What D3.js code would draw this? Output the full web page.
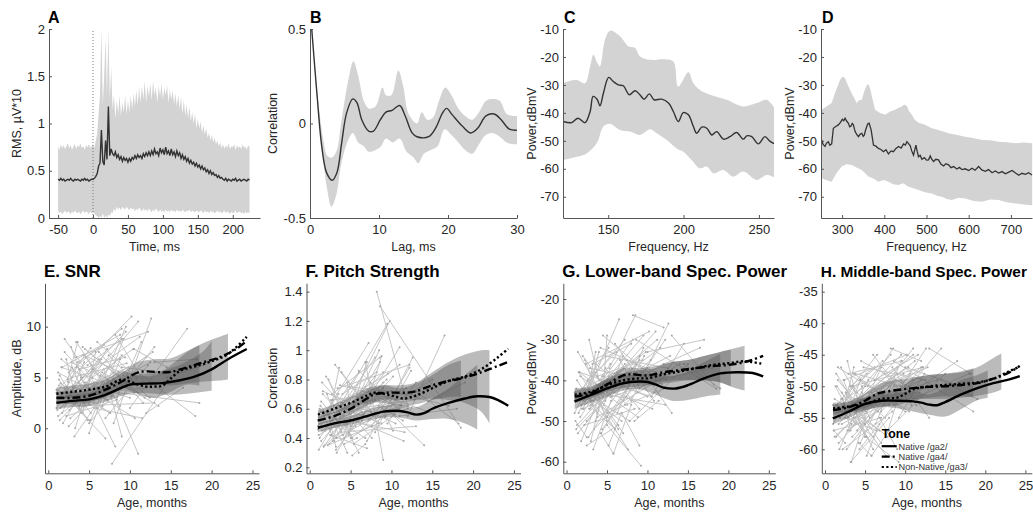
<!DOCTYPE html>
<html><head><meta charset="utf-8">
<script src="https://cdn.jsdelivr.net/npm/d3@7"></script>
<style>body{margin:0;background:#fff}svg{display:block}</style>
</head><body>
<svg id="c" width="1033" height="514"></svg>
<script>
// ---------------- DATA ----------------
// Panel A: RMS over time (2 ms samples from -50 to 224 ms)
const rmsTime = d3.range(-50, 225, 2);
const rmsMean = [0.41,0.40,0.42,0.40,0.41,0.39,0.40,0.41,0.40,0.42,0.40,0.39,0.41,0.40,0.41,0.40,0.39,0.41,0.40,0.42,0.40,0.41,0.39,0.40,0.41,
0.41,0.42,0.44,0.47,0.55,0.58,
0.93,0.60,0.56,0.82,0.62,1.18,0.66,0.73,0.68,
0.66,0.70,0.64,0.67,0.62,0.65,0.60,0.64,0.61,0.63,0.59,
0.63,0.60,0.64,0.62,0.66,0.63,0.67,0.64,0.66,0.63,0.68,0.65,0.69,0.66,0.70,
0.66,0.71,0.67,0.73,0.68,0.70,0.66,0.74,0.69,0.72,0.67,0.75,0.68,0.71,0.66,0.73,0.67,0.70,0.65,0.71,
0.66,0.69,0.63,0.67,0.62,0.65,0.60,0.63,0.58,0.61,0.57,0.59,0.55,0.58,0.54,
0.56,0.52,0.55,0.51,0.53,0.49,0.51,0.47,0.50,0.46,0.48,0.45,0.46,0.43,0.45,
0.42,0.43,0.41,0.40,0.42,0.39,0.41,0.40,0.39,0.41,0.40,0.42,0.39,0.40,0.41,0.39,0.40,0.41,0.40,0.39,0.41,0.40];
const rmsUpper = [0.76,0.72,0.78,0.74,0.77,0.73,0.76,0.79,0.74,0.77,0.72,0.76,0.78,0.73,0.77,0.75,0.79,0.74,0.76,0.72,0.77,0.75,0.78,0.74,0.76,
0.78,0.74,0.82,0.90,1.10,1.30,
2.0,1.2,1.5,1.9,1.3,2.0,1.25,1.6,1.15,
1.3,1.05,1.25,1.1,1.3,1.08,1.22,1.12,1.3,1.1,1.25,
1.12,1.3,1.15,1.32,1.18,1.35,1.2,1.38,1.22,1.4,1.25,1.45,1.22,1.4,1.28,
1.42,1.25,1.45,1.3,1.38,1.22,1.4,1.28,1.42,1.25,1.38,1.3,1.4,1.22,1.36,1.25,1.35,1.2,1.32,1.18,
1.3,1.15,1.28,1.1,1.25,1.08,1.2,1.05,1.18,1.02,1.12,1.0,1.1,0.95,1.05,
0.95,1.02,0.9,0.98,0.88,0.95,0.85,0.9,0.82,0.88,0.8,0.85,0.78,0.82,0.76,
0.8,0.74,0.78,0.73,0.77,0.74,0.79,0.73,0.76,0.75,0.78,0.72,0.77,0.74,0.76,0.73,0.78,0.74,0.76,0.72,0.77,0.75];
const rmsLower = [0.08,0.05,0.07,0.04,0.06,0.08,0.05,0.07,0.06,0.04,0.07,0.05,0.08,0.06,0.05,0.07,0.04,0.06,0.08,0.05,0.07,0.06,0.04,0.07,0.05,
0.06,0.05,0.03,0.02,0.0,0.02,
0.0,0.05,0.0,0.03,0.0,0.04,0.02,0.06,0.05,
0.1,0.07,0.12,0.09,0.11,0.08,0.12,0.1,0.09,0.12,0.1,
0.08,0.11,0.09,0.1,0.07,0.1,0.08,0.11,0.09,0.07,0.1,0.08,0.09,0.07,0.1,
0.08,0.06,0.09,0.07,0.1,0.08,0.06,0.09,0.07,0.08,0.06,0.09,0.07,0.08,0.06,0.09,0.07,0.08,0.06,0.09,
0.07,0.08,0.06,0.09,0.07,0.06,0.08,0.07,0.09,0.06,0.08,0.07,0.06,0.08,0.07,
0.06,0.08,0.07,0.05,0.08,0.06,0.07,0.05,0.08,0.06,0.07,0.05,0.06,0.08,0.06,
0.07,0.05,0.06,0.08,0.05,0.07,0.06,0.04,0.07,0.05,0.06,0.08,0.05,0.06,0.07,0.05,0.06,0.04,0.07,0.05,0.06,0.05];

// Panel B: autocorrelation [lag ms, r]
const acMean = [[0.25,0.5],[1,0.16],[1.7,-0.12],[2.4,-0.26],[3.2,-0.30],[3.9,-0.26],[4.6,-0.10],[5.3,0.055],[6.2,0.13],[6.8,0.11],[7.5,0.02],[8.5,-0.04],[9.2,-0.04],[10.2,0.02],[11,0.06],[11.9,0.07],[13,0.095],[13.8,0.04],[14.8,-0.05],[15.5,-0.07],[17.2,-0.07],[18.2,-0.025],[19.2,0.055],[19.8,0.08],[20.6,0.047],[22.1,-0.015],[23.3,-0.05],[24.3,-0.025],[25.5,0.04],[26.7,0.05],[27.7,0.02],[28.9,-0.03],[30,-0.035]];
const acUpper = [[0.25,0.5],[1,0.18],[2,-0.1],[2.5,-0.17],[3.2,-0.18],[3.9,-0.14],[4.5,0.0],[5.5,0.22],[6.3,0.33],[7,0.25],[7.8,0.12],[8.5,0.08],[9.5,0.09],[10.5,0.19],[11,0.15],[11.8,0.15],[12.8,0.28],[13.5,0.2],[14.3,0.05],[15.5,0.0],[16.2,0.06],[17,0.02],[17.8,0.03],[18.7,0.12],[19.6,0.19],[20.5,0.15],[21.5,0.08],[22.5,0.04],[23.5,0.02],[24.5,0.06],[25.5,0.12],[26.5,0.13],[27.5,0.12],[28.5,0.05],[29.5,0.04],[30,0.04]];
const acLower = [[0.25,0.5],[1,0.14],[1.8,-0.15],[2.5,-0.35],[3.1,-0.44],[3.8,-0.38],[4.5,-0.22],[5.3,-0.11],[6.2,-0.05],[7,-0.1],[7.8,-0.12],[8.5,-0.15],[9.5,-0.14],[10.3,-0.12],[11,-0.08],[12,-0.1],[13,-0.08],[14,-0.15],[15,-0.18],[15.7,-0.21],[16.5,-0.16],[17.5,-0.14],[18.5,-0.12],[19.5,-0.03],[20.5,-0.06],[21.5,-0.1],[22.5,-0.14],[23.5,-0.16],[24.5,-0.11],[25.5,-0.06],[26.5,-0.05],[27.5,-0.07],[28.5,-0.1],[29.5,-0.11],[30,-0.11]];

// Panel C: lower-band spectrum [Hz, dBmV]
const lowSpecMean = [[120.2,-43.1],[125.7,-43.5],[130,-41.9],[134.6,-43.5],[138,-39.5],[140,-34.1],[142.8,-35.3],[144.5,-37.5],[146.8,-33],[150.3,-27.3],[153.4,-28.8],[156.7,-30],[160,-30.3],[164,-33.5],[167.8,-32.1],[171,-33.5],[173.8,-35.1],[177.3,-33.2],[180.4,-35.3],[185.5,-35.1],[190,-36.5],[193.2,-39.5],[196.5,-43.1],[199.8,-39.9],[203.2,-40.7],[206.5,-44.9],[208.7,-47.3],[212,-45.1],[215.4,-45.5],[218.7,-47.9],[222,-46.7],[226.4,-49.4],[230.8,-48.5],[235.2,-47],[239.6,-49.4],[241.9,-48.2],[245.2,-48.5],[249.6,-51.1],[254,-48.5],[257,-50],[260,-51]];
const lowSpecUpper = [[120,-29.4],[129.1,-28.2],[134.6,-29.4],[138,-23.4],[140.2,-19.2],[142.8,-22.2],[144.5,-23.4],[147.9,-13.8],[151.2,-10.6],[157.8,-12.6],[163.4,-16.2],[167.8,-16.8],[171.1,-19.8],[177.8,-21],[186.6,-20.8],[193.2,-21.6],[196.5,-30.6],[203.2,-25.5],[206.5,-29.4],[210.9,-31.8],[217.5,-33.5],[228.6,-35.3],[239.6,-37.7],[248.5,-36.5],[255.1,-35.3],[260,-38]];
const lowSpecLower = [[120,-56.9],[129.1,-55.7],[135.7,-54.5],[142.4,-50.9],[146.8,-44.9],[151.2,-43.9],[157.8,-46.1],[164.5,-46.7],[171.1,-47.9],[177.8,-45.9],[182.2,-47.3],[188.8,-49.7],[195.4,-52.7],[199.9,-53.9],[205.4,-56.9],[210.9,-59.8],[215.4,-59.2],[219.8,-61.6],[226.4,-60.4],[233,-62.8],[239.6,-61],[248.5,-64],[255.1,-62.2],[260,-63]];

// Panel D: middle-band spectrum [Hz, dBmV]
const midSpecMean = [[251.6,-49.7],[255,-51.3],[259.5,-52],[263,-50.8],[267.4,-50.3],[271,-51.6],[275.3,-51.1],[279.3,-45.5],[285,-44.9],[291.1,-44.3],[296,-43.4],[300.6,-42.3],[304,-42.8],[307,-41.9],[311,-43],[315,-43.7],[318,-45],[321.3,-44.7],[324,-43.8],[326.8,-44.3],[330.8,-46.7],[335,-47.8],[338.7,-48.5],[343,-47.6],[346.7,-47.3],[350,-48.4],[352.8,-47.9],[355,-46.5],[358.5,-44.9],[361,-43.9],[364,-43.7],[368.8,-46.1],[374.3,-51.5],[380,-51.9],[386.1,-52.7],[392,-53.1],[398,-53.9],[404,-53.2],[409.9,-54.7],[416,-53.6],[421.7,-53.9],[427,-52.8],[433.6,-52],[440,-52.6],[445.5,-51.1],[450,-51.5],[453.5,-50.3],[457,-50.9],[461.4,-51.8],[465,-53.6],[469.2,-55.1],[474.9,-51.5],[478,-53.8],[481,-55.7],[485,-55.2],[489.2,-56.6],[495,-56],[500,-56.9],[504.8,-56.8],[508.9,-55.4],[512,-56.5],[516.8,-57.4],[522,-56.6],[528.6,-56.8],[534,-58.3],[540.5,-59],[546,-58.2],[552.4,-58.6],[558,-59.6],[564.2,-59.2],[572,-60.1],[578,-59.5],[584.2,-60.3],[592,-60],[600,-60.6],[607.9,-59.8],[615,-60.5],[623.6,-59.2],[631,-60.4],[639.5,-60.9],[647,-60.3],[655.4,-61.4],[663,-60.8],[671.2,-61.5],[679,-61],[687,-61.8],[695,-61.2],[703,-60.6],[711,-61.5],[718.6,-62.3],[726,-61.6],[734.5,-62],[742,-61.4],[750,-62.2]];
const midSpecUpper = [[251.6,-38.9],[262,-37.8],[275.3,-36.5],[283.2,-32.9],[295.1,-28.2],[301,-27],[307,-27.6],[312,-29.5],[318.9,-31.8],[326,-34],[334.7,-36.5],[340,-35.5],[346.6,-35.3],[352,-32.5],[358.5,-30],[362,-29.8],[366.4,-31.2],[372,-35],[378.3,-38.9],[390,-40],[402,-40.7],[414,-39.5],[425.8,-38.9],[434,-38.2],[441.6,-37.7],[447,-37],[453.5,-37.5],[459,-39.5],[465.4,-40.7],[472,-42.5],[481.1,-43.5],[495,-44.2],[512.9,-45.5],[530,-46.2],[552.4,-47.3],[570,-47.8],[592,-48.5],[610,-49],[631.7,-49.7],[650,-49.8],[671.1,-50.3],[690,-50.5],[710.8,-50.9],[730,-50.6],[750.4,-50.9]];
const midSpecLower = [[251.6,-63.4],[262,-64],[275.3,-64.6],[287,-61.5],[299,-59.2],[310,-58.4],[322.8,-58.6],[334,-59.5],[346.6,-60.4],[354,-61.5],[362.4,-62.8],[374,-63.5],[386.2,-64.6],[398,-64],[409.9,-64.6],[421,-65.5],[433.6,-65.8],[445,-65.2],[457.4,-66.4],[469,-67],[481.1,-67.6],[496,-68.4],[512.9,-68.8],[525,-69.6],[536.6,-70],[548,-70.8],[560.4,-71.2],[576,-70.4],[592,-70.6],[612,-71.5],[631.7,-71.8],[651,-71],[671.1,-71.2],[690,-72],[710.8,-72.4],[730,-72.8],[750.4,-73]];

// Bottom row: individual subjects (ages in months at two visits) and their measures
const subjectAges = [[1.0,5.2],[1.2,8.0],[1.3,3.8],[1.5,6.5],[1.6,10.5],[1.8,4.5],[2.0,7.2],[2.1,12.0],[2.3,5.0],[2.5,9.0],
[2.6,6.0],[2.8,4.0],[3.0,11.0],[3.1,7.5],[3.3,5.5],[3.5,9.8],[3.6,6.8],[3.8,13.0],[4.0,8.2],[4.2,5.8],
[4.4,10.0],[4.6,7.0],[4.8,12.5],[5.0,9.2],[5.3,8.5],[5.6,11.5],[6.0,10.8],[6.3,9.5],[6.6,13.5],[7.0,12.2],
[7.4,10.2],[7.8,15.0],[8.2,12.0],[8.6,18.5],[9.0,14.0],[9.5,13.0],[10.0,17.0],[11.0,18.0],[12.0,16.5],[1.1,2.5],
[1.4,4.8],[1.9,9.5],[2.2,3.2],[2.7,8.6],[3.2,6.2],[3.9,7.8],[4.5,11.8],[5.2,6.8],[5.8,12.8],[6.8,9.0],
[1.0,6.0],[1.7,3.0],[2.4,10.2],[3.4,8.8],[4.1,5.4],[13.0,18.2],[14.5,19.0],[8.0,12.6],[1.5,7.6],[2.9,4.6],
[1.0,3.5],[1.2,6.8],[1.4,9.0],[1.6,4.2],[1.8,11.2],[2.0,5.6],[2.2,8.4],[2.4,3.6],[2.6,7.0],[2.8,10.0],
[3.0,4.4],[3.2,8.0],[3.4,12.2],[3.6,5.2],[3.8,9.4],[4.0,6.4],[4.2,11.0],[4.4,7.4],[4.6,5.0],[4.8,9.0],
[5.0,7.8],[5.4,10.4],[5.8,8.0],[6.2,11.6],[6.6,8.8],[7.2,11.0],[7.6,9.6],[8.4,11.4],[9.2,12.4],[10.5,14.5],
[1.1,7.0],[1.3,5.0],[1.7,8.8],[2.1,4.0],[2.5,6.4],[2.9,9.6],[3.3,7.2],[3.7,10.6],[4.3,8.6],[5.1,12.0]];
const snrVisits = [[3.5,7.9],[1.2,5.5],[4.8,2.0],[2.0,6.8],[6.0,3.5],[0.5,4.2],[7.5,2.8],[2.5,7.0],[3.2,0.8],[5.5,9.8],
[1.8,4.5],[8.0,5.2],[2.8,10.5],[4.2,1.5],[0.0,5.8],[3.8,6.0],[6.5,8.2],[2.2,2.5],[5.0,-1.8],[1.5,7.5],
[4.5,3.0],[7.0,4.0],[3.0,6.5],[-0.5,8.8],[6.2,3.8],[2.0,1.0],[8.5,5.0],[4.0,10.0],[5.5,2.2],[1.0,6.2],
[7.2,4.8],[-3.5,5.0],[9.2,4.2],[3.5,2.5],[6.0,5.5],[4.5,8.0],[2.0,9.8],[5.5,1.2],[1.5,4.0],[2.6,4.5],
[5.2,0.8],[3.0,9.5],[6.8,3.5],[1.0,5.2],[4.0,6.8],[2.4,3.2],[7.8,3.0],[0.8,3.8],[3.6,7.5],[5.8,-0.8],
[3.8,2.0],[1.5,3.8],[4.6,11.0],[8.5,2.2],[2.8,5.8],[6.5,6.8],[5.0,6.2],[0.5,10.8],[4.4,1.5],[6.0,3.0],
[2.0,6.0],[5.5,3.0],[0.8,7.2],[6.8,5.0],[3.5,9.0],[8.8,4.5],[1.2,2.8],[4.8,8.5],[2.8,-1.0],[6.5,3.8],
[4.0,6.5],[-0.8,4.8],[7.0,9.5],[3.2,1.5],[5.8,7.0],[1.5,5.2],[8.0,3.5],[2.5,6.0],[4.5,4.0],[6.2,8.8],
[0.5,3.2],[5.0,7.8],[3.8,5.5],[7.5,2.5],[2.2,6.8],[4.8,-2.5],[6.0,4.2],[3.0,8.5],[5.2,3.0],[7.8,6.0],
[1.8,5.0],[4.2,2.5],[6.0,9.2],[3.0,4.8],[0.2,3.6],[5.0,6.4],[2.6,7.8],[4.5,1.0],[7.2,5.6],[3.4,4.0]];
const pitchVisits = [[0.52,0.68],[0.40,0.95],[0.62,0.45],[0.45,0.72],[0.72,0.50],[0.35,0.55],[0.58,1.05],[0.48,0.62],[0.80,0.42],[0.42,0.78],
[0.66,0.30],[0.38,0.60],[0.55,0.90],[0.90,0.58],[0.30,0.52],[0.50,1.20],[0.62,0.75],[0.44,0.48],[0.70,0.85],[0.36,0.40],
[0.58,0.62],[0.48,0.92],[0.75,0.70],[0.40,0.55],[0.60,1.00],[0.52,0.38],[0.86,0.60],[0.45,0.68],[0.65,0.72],[0.38,0.88],
[0.78,0.45],[0.55,0.80],[1.40,0.62],[1.30,0.47],[0.62,0.35],[0.50,0.78],[0.72,0.62],[0.55,0.60],[0.55,1.10],[0.32,0.45],
[0.65,0.42],[0.45,1.18],[0.58,0.34],[0.70,0.95],[0.40,0.70],[0.85,0.56],[0.50,0.74],[0.28,0.36],[0.60,0.66],[0.92,0.25],
[0.46,0.85],[0.56,0.38],[0.36,0.82],[0.62,0.50],[0.42,0.60],[0.72,0.50],[0.65,0.78],[0.44,0.95],[0.78,0.40],[0.50,0.30],
[0.48,0.70],[0.60,0.40],[0.38,0.85],[0.70,0.55],[0.45,0.62],[0.82,0.48],[0.35,0.50],[0.55,0.88],[0.42,0.33],[0.66,0.72],
[0.50,0.58],[0.32,0.66],[0.74,0.90],[0.58,0.40],[0.46,0.80],[0.64,0.52],[0.40,1.02],[0.52,0.64],[0.78,0.46],[0.44,0.74],
[0.60,0.70],[0.36,0.56],[0.68,0.82],[0.50,0.44],[0.56,0.96],[0.72,0.60],[0.48,0.68],[0.62,0.52],[0.54,0.86],[0.66,0.58],
[0.42,0.64],[0.58,0.48],[0.34,0.72],[0.70,0.42],[0.46,0.58],[0.62,0.84],[0.40,0.52],[0.76,0.66],[0.52,0.92],[0.48,0.60]];
const lowPowVisits = [[-45,-32],[-52,-38],[-40,-48],[-48,-25],[-38,-44],[-55,-42],[-42,-30],[-47,-36],[-35,-50],[-50,-35],
[-44,-52],[-30,-40],[-46,-28],[-38,-46],[-57,-45],[-43,-33],[-36,-41],[-49,-38],[-41,-30],[-53,-58],
[-39,-44],[-46,-34],[-34,-37],[-51,-61],[-37,-24],[-44,-40],[-31,-45],[-48,-32],[-40,-42],[-45,-30],
[-35,-38],[-50,-36],[-24,-27],[-30,-42],[-42,-36],[-38,-48],[-33,-30],[-40,-37],[-36,-32],[-50,-54],
[-33,-45],[-47,-29],[-42,-46],[-54,-36],[-39,-33],[-45,-50],[-29,-41],[-56,-48],[-41,-34],[-48,-56],
[-43,-52],[-49,-45],[-36,-28],[-52,-41],[-40,-36],[-29,-41],[-36,-42],[-45,-26],[-38,-57],[-47,-39],
[-48,-38],[-42,-50],[-53,-34],[-38,-42],[-46,-30],[-34,-44],[-51,-47],[-44,-33],[-40,-53],[-47,-37],
[-55,-43],[-36,-31],[-43,-46],[-50,-39],[-39,-35],[-45,-52],[-32,-38],[-52,-44],[-41,-29],[-37,-47],
[-49,-41],[-44,-35],[-58,-46],[-40,-32],[-35,-43],[-46,-38],[-42,-34],[-50,-45],[-38,-40],[-44,-31],
[-43,-37],[-51,-43],[-39,-49],[-47,-33],[-56,-51],[-37,-40],[-45,-36],[-41,-47],[-53,-38],[-48,-42]];
const midPowVisits = [[-55,-48],[-58,-50],[-50,-56],[-53,-45],[-47,-54],[-60,-52],[-52,-46],[-56,-49],[-49,-58],[-54,-47],
[-51,-60],[-46,-52],[-57,-44],[-50,-55],[-62,-53],[-53,-48],[-48,-51],[-55,-50],[-51,-45],[-59,-61],
[-49,-54],[-54,-47],[-47,-49],[-58,-62],[-50,-44],[-53,-52],[-45,-53],[-56,-46],[-52,-50],[-54,-47],
[-48,-52],[-57,-48],[-44,-46],[-46,-54],[-51,-49],[-49,-55],[-47,-50],[-52,-48],[-50,-46],[-57,-59],
[-48,-55],[-55,-45],[-52,-57],[-60,-50],[-50,-47],[-54,-58],[-46,-51],[-61,-56],[-51,-47],[-55,-60],
[-53,-58],[-56,-54],[-49,-45],[-58,-51],[-52,-49],[-44,-48],[-49,-52],[-53,-44],[-50,-61],[-55,-51],
[-56,-50],[-52,-57],[-58,-48],[-49,-53],[-55,-46],[-47,-55],[-60,-54],[-53,-47],[-51,-59],[-57,-51],
[-54,-49],[-62,-55],[-50,-47],[-55,-58],[-48,-50],[-57,-53],[-52,-45],[-59,-51],[-50,-56],[-53,-48],
[-56,-52],[-51,-47],[-61,-57],[-49,-45],[-54,-51],[-52,-49],[-58,-50],[-47,-53],[-55,-48],[-50,-44],
[-57,-55],[-53,-50],[-59,-49],[-51,-54],[-55,-57],[-48,-46],[-56,-51],[-52,-48],[-60,-53],[-54,-47]];

// Group trajectories [age, value] and confidence bands [age, low, high]
const snrGa2 = [[1,2.5],[3,2.7],[5,2.85],[7,3.3],[9,4.0],[10,4.3],[12,4.4],[14,4.45],[16,4.7],[18,5.1],[20,5.8],[22,6.8],[24.3,7.8]];
const snrGa4 = [[1,3.0],[3,3.0],[5,3.2],[7,3.8],[9,4.6],[10,5.1],[11,5.5],[12,5.6],[14,5.5],[15,5.55],[17,6.0],[19,6.5],[21,7.0],[23,7.8],[24.3,8.6]];
const snrGa3 = [[1,3.4],[3,3.6],[5,3.8],[7,4.1],[9,4.8],[10,4.6],[11,4.3],[12,4.1],[13,4.1],[14,4.2],[15,4.9],[16,5.6],[17,5.9],[18,6.1],[20,6.6],[22,7.3],[24.3,9.0]];
const snrBandGa2 = [[1,1.9,3.1],[3,2.1,3.3],[5,2.2,3.5],[7,2.6,4.0],[9,3.2,4.8],[11,3.5,5.3],[13,3.4,5.5],[15,3.3,5.9],[17,3.4,6.6],[19,3.6,7.6],[20,3.7,8.6]];
const snrBandGa4 = [[1,2.4,3.6],[3,2.4,3.6],[5,2.6,3.8],[7,3.1,4.5],[9,3.8,5.4],[11,4.5,6.5],[13,4.4,6.8],[15,4.2,6.9],[17,4.4,7.6],[19,4.6,8.4],[21,4.7,9.0],[22,4.8,9.3]];
const snrBandGa3 = [[1,2.8,4.0],[3,3.0,4.2],[5,3.2,4.4],[7,3.4,4.8],[9,4.0,5.6],[11,3.4,5.2],[13,3.0,5.2],[15,3.6,6.2],[17,4.3,7.5],[18.5,4.2,8.2]];

const pitchGa2 = [[1,0.47],[3,0.50],[5,0.52],[7,0.55],[9,0.58],[10,0.585],[11,0.585],[12,0.575],[13,0.56],[14,0.57],[15,0.60],[17,0.64],[19,0.67],[20.5,0.685],[22,0.68],[23,0.66],[24.3,0.62]];
const pitchGa4 = [[1,0.52],[3,0.55],[5,0.60],[7,0.67],[8,0.70],[10,0.71],[12,0.71],[13,0.72],[15,0.76],[17,0.79],[18,0.80],[20,0.83],[22,0.87],[24.3,0.92]];
const pitchGa3 = [[1,0.56],[3,0.60],[5,0.64],[7,0.69],[8,0.71],[10,0.69],[11.5,0.67],[13,0.69],[15,0.74],[17,0.79],[19,0.82],[21,0.87],[23,0.95],[24.3,1.01]];
const pitchBandGa2 = [[1,0.44,0.50],[3,0.47,0.53],[5,0.49,0.55],[7,0.52,0.59],[9,0.54,0.62],[11,0.54,0.63],[13,0.52,0.61],[15,0.53,0.67],[17,0.53,0.74],[19,0.50,0.83],[20.5,0.46,0.90]];
const pitchBandGa4 = [[1,0.49,0.55],[3,0.52,0.58],[5,0.56,0.64],[7,0.62,0.72],[9,0.66,0.76],[11,0.66,0.76],[13,0.66,0.78],[15,0.67,0.85],[17,0.66,0.92],[19,0.64,0.97],[21,0.58,1.0],[22,0.50,1.0]];
const pitchBandGa3 = [[1,0.53,0.59],[3,0.57,0.63],[5,0.60,0.68],[7,0.64,0.74],[9,0.64,0.76],[11,0.62,0.74],[13,0.63,0.77],[15,0.66,0.83],[17,0.68,0.90],[18.5,0.68,0.93]];

const lowPowGa2 = [[1,-45.2],[3,-43.6],[5,-42],[7,-40.7],[9,-40.3],[10,-40.4],[11,-41],[12,-41.8],[13.5,-42],[15,-41.2],[17,-39.5],[19,-38.3],[21,-38.0],[23,-38.2],[24.3,-39]];
const lowPowGa4 = [[1,-44],[3,-43.2],[5,-41.0],[7,-38.8],[8,-38.5],[10,-38.8],[12,-38.0],[14,-37.5],[16,-37.0],[18,-36.5],[20,-36.2],[22,-35.5],[24.3,-34]];
const lowPowGa3 = [[1,-43.5],[3,-42.8],[5,-41.2],[7,-40],[9,-39.5],[10,-39.5],[12,-38.5],[14,-37.8],[16,-37.0],[18,-36.2],[20,-35.8],[22,-35.3],[24.3,-36]];
const lowPowBandGa2 = [[1,-47,-43.5],[3,-45.5,-42.5],[5,-44,-40],[7,-42.5,-39],[9,-42.2,-38.5],[11,-43.5,-38.5],[13,-45,-39],[15,-44.8,-37.8],[17,-44,-35.5],[19,-43.5,-33.5]];
const lowPowBandGa4 = [[1,-45.5,-42.5],[3,-44.5,-41.8],[5,-42.5,-39.5],[7,-40.5,-37],[9,-40.5,-37],[11,-40.5,-36.5],[13,-40,-35.5],[15,-40,-35],[17,-40,-34],[19,-40.5,-33],[21,-42,-32],[22,-42.5,-31.5]];
const lowPowBandGa3 = [[1,-45,-42],[3,-44,-41.5],[5,-42.8,-39.6],[7,-41.8,-38.2],[9,-41.5,-37.5],[11,-41,-37],[13,-40.5,-35.5],[15,-40,-35],[17,-40,-34],[19,-40.5,-33],[20.3,-41.5,-32.5]];

const midPowGa2 = [[1,-55.1],[3,-54.0],[5,-52.8],[7,-52.3],[9,-52.3],[11,-52.4],[12,-52.6],[13,-52.9],[14,-53.0],[15,-52.5],[17,-51.3],[19,-50.3],[21,-49.5],[23,-48.9],[24.3,-48.4]];
const midPowGa4 = [[1,-53.8],[3,-53.3],[5,-52.3],[6,-51.5],[7,-51.0],[9,-50.6],[11,-50.3],[13,-50.1],[15,-50.0],[17,-49.8],[19,-49.5],[21,-48.8],[23,-47.8],[24.3,-46.8]];
const midPowGa3 = [[1,-53.5],[3,-53.2],[5,-52.8],[7,-52.0],[9,-51.8],[10,-51.2],[11,-50.5],[13,-50.0],[15,-49.8],[17,-49.6],[19,-49.4],[21,-48.8],[23,-47.6],[24.3,-46.9]];
const midPowBandGa2 = [[1,-56,-54.2],[3,-55,-53],[5,-53.8,-51.8],[7,-53.3,-51.3],[9,-53.5,-51.1],[11,-54,-50.8],[13,-54.5,-51.3],[15,-54.8,-50.2],[17,-53.6,-49],[19,-52.2,-48.2],[20.3,-51.8,-47.5]];
const midPowBandGa4 = [[1,-54.7,-52.9],[3,-54.2,-52.4],[5,-53.4,-51.2],[7,-52.5,-49.5],[9,-52.2,-49],[11,-52,-48.6],[13,-52,-48.2],[15,-52,-48],[17,-51.8,-47.8],[19,-51.5,-47],[21,-51,-45.5],[22,-50.5,-44.8]];
const midPowBandGa3 = [[1,-54.4,-52.6],[3,-54,-52.4],[5,-53.8,-51.8],[7,-53.2,-50.8],[9,-53,-50.6],[11,-52.2,-48.8],[13,-51.8,-48.2],[15,-51.6,-48],[17,-51.6,-47.6],[18.5,-51.8,-47.2]];

const toneLabels = ["Native /ga2/", "Native /ga4/", "Non-Native /ga3/"];

// Tick values
const ticksA = {x:[-50,0,50,100,150,200], y:[0,0.5,1,1.5,2]};
const ticksB = {x:[0,10,20,30], y:[-0.5,0,0.5]};
const ticksC = {x:[150,200,250], y:[-70,-60,-50,-40,-30,-20,-10]};
const ticksD = {x:[300,400,500,600,700], y:[-70,-60,-50,-40,-30,-20,-10]};
const ticksAge = [0,5,10,15,20,25];
const ticksE = [0,5,10];
const ticksF = [0.2,0.4,0.6,0.8,1,1.2,1.4];
const ticksG = [-60,-50,-40,-30,-20];
const ticksH = [-60,-55,-50,-45,-40,-35];

// ---------------- DRAWING ----------------
const FONT = "'Liberation Sans', Arial, Helvetica, sans-serif";
const svg = d3.select("#c").attr("font-family", FONT);
const TOP1 = 29, BOT1 = 218, TOP2 = 283.3, BOT2 = 473.3;
const BAND_TOP = "#d3d3d3";
const dashes = [null, "8,3,2,3", "2.2,2.4"];

function makePanel(o) {
  const x = d3.scaleLinear().domain(o.xd).range([o.left, o.right]);
  const y = d3.scaleLinear().domain(o.yd).range([o.bottom, o.top]);
  const g = svg.append("g");
  return {x, y, g, o};
}
function finishPanel(p) {
  const {x, y, g, o} = p;
  const fmt = d => String(d);
  const ax = g.append("g").attr("transform", `translate(0,${o.bottom})`)
    .call(d3.axisBottom(x).tickValues(o.xt).tickSizeInner(-3).tickSizeOuter(0).tickPadding(7).tickFormat(fmt));
  const ay = g.append("g").attr("transform", `translate(${o.left},0)`)
    .call(d3.axisLeft(y).tickValues(o.yt).tickSizeInner(-3).tickSizeOuter(0).tickPadding(4).tickFormat(fmt));
  [ax, ay].forEach(a => {
    a.attr("font-size", 13).attr("font-family", FONT).attr("color", "#262626");
    a.select(".domain").attr("stroke", "#555");
    a.selectAll(".tick line").attr("stroke", "#555");
  });
  g.append("text").attr("x", (o.left + o.right) / 2).attr("y", o.xlabY)
    .attr("text-anchor", "middle").attr("font-size", 12.5).attr("fill", "#262626").text(o.xlab);
  g.append("text").attr("transform", `translate(${o.ylabX},${(o.top + o.bottom) / 2}) rotate(-90)`)
    .attr("dy", "0.35em").attr("text-anchor", "middle").attr("font-size", 12.5).attr("fill", "#262626").text(o.ylab);
  g.append("text").attr("x", o.titleX).attr("y", o.titleY).attr("font-weight", "bold")
    .attr("font-size", o.titleSize).attr("fill", "#000").text(o.title);
}
function closedBand(p, upper, lower, curve) {
  const l = d3.line().x(d => p.x(d[0])).y(d => p.y(d[1])).curve(curve);
  return l(upper) + "L" + l(lower.slice().reverse()).slice(1) + "Z";
}

// ---- Panel A ----
{
  const p = makePanel({left:49, right:260, top:TOP1, bottom:BOT1, xd:[-63,239], yd:[0,2]});
  const idx = d3.range(rmsTime.length);
  p.g.append("path").attr("fill", BAND_TOP)
    .attr("d", d3.area().x(i => p.x(rmsTime[i])).y0(i => p.y(rmsLower[i])).y1(i => p.y(rmsUpper[i]))(idx));
  p.g.append("line").attr("x1", p.x(0)).attr("x2", p.x(0)).attr("y1", p.y(0)).attr("y2", p.y(2))
    .attr("stroke", "#777").attr("stroke-width", 1).attr("stroke-dasharray", "1,2");
  p.g.append("path").attr("fill", "none").attr("stroke", "#333").attr("stroke-width", 1.4)
    .attr("d", d3.line().x(i => p.x(rmsTime[i])).y(i => p.y(rmsMean[i]))(idx));
  p.o = Object.assign(p.o, {xt:ticksA.x, yt:ticksA.y, xlab:"Time, ms", xlabY:251, ylab:"RMS, \u00b5V*10", ylabX:17,
    title:"A", titleX:48, titleY:23, titleSize:16});
  finishPanel(p);
}
// ---- Panel B ----
{
  const p = makePanel({left:310, right:517, top:TOP1, bottom:BOT1, xd:[0,30], yd:[-0.5,0.5]});
  p.g.append("path").attr("fill", BAND_TOP).attr("d", closedBand(p, acUpper, acLower, d3.curveCatmullRom));
  p.g.append("path").attr("fill", "none").attr("stroke", "#333").attr("stroke-width", 1.4)
    .attr("d", d3.line().x(d => p.x(d[0])).y(d => p.y(d[1])).curve(d3.curveCatmullRom)(acMean));
  p.o = Object.assign(p.o, {xt:ticksB.x, yt:ticksB.y, xlab:"Lag, ms", xlabY:251, ylab:"Correlation", ylabX:273,
    title:"B", titleX:310, titleY:23, titleSize:16});
  finishPanel(p);
}
// ---- Panel C ----
{
  const p = makePanel({left:563, right:774, top:TOP1, bottom:BOT1, xd:[120,260], yd:[-77.6,-10]});
  p.g.append("path").attr("fill", BAND_TOP).attr("d", closedBand(p, lowSpecUpper, lowSpecLower, d3.curveCatmullRom));
  p.g.append("path").attr("fill", "none").attr("stroke", "#333").attr("stroke-width", 1.4)
    .attr("d", d3.line().x(d => p.x(d[0])).y(d => p.y(d[1])).curve(d3.curveCatmullRom)(lowSpecMean));
  p.o = Object.assign(p.o, {xt:ticksC.x, yt:ticksC.y, xlab:"Frequency, Hz", xlabY:251, ylab:"Power,dBmV", ylabX:532,
    title:"C", titleX:564, titleY:23, titleSize:16});
  finishPanel(p);
}
// ---- Panel D ----
{
  const p = makePanel({left:821, right:1032, top:TOP1, bottom:BOT1, xd:[250,750], yd:[-77.6,-10]});
  p.g.append("path").attr("fill", BAND_TOP).attr("d", closedBand(p, midSpecUpper, midSpecLower, d3.curveLinear));
  p.g.append("path").attr("fill", "none").attr("stroke", "#333").attr("stroke-width", 1.3)
    .attr("d", d3.line().x(d => p.x(d[0])).y(d => p.y(d[1]))(midSpecMean));
  p.o = Object.assign(p.o, {xt:ticksD.x, yt:ticksD.y, xlab:"Frequency, Hz", xlabY:251, ylab:"Power,dBmV", ylabX:790,
    title:"D", titleX:822, titleY:23, titleSize:16});
  finishPanel(p);
}

// ---- Bottom row ----
function agePanel(cfg) {
  const p = makePanel({left:cfg.left, right:cfg.left + cfg.width, top:TOP2, bottom:BOT2, xd:[-0.4,25.8], yd:cfg.yd});
  const seg = d3.line().x(d => p.x(d[0])).y(d => p.y(d[1]));
  const subj = p.g.append("g");
  subjectAges.forEach((a, i) => {
    const v = cfg.visits[i];
    const pts = [[a[0], v[0]], [a[1], v[1]]];
    subj.append("path").attr("d", seg(pts)).attr("fill", "none").attr("stroke", "#c0c0c0").attr("stroke-width", 0.9);
    pts.forEach(pt => subj.append("circle").attr("cx", p.x(pt[0])).attr("cy", p.y(pt[1])).attr("r", 1).attr("fill", "#a9a9a9"));
  });
  const area = d3.area().x(d => p.x(d[0])).y0(d => p.y(d[1])).y1(d => p.y(d[2])).curve(d3.curveCatmullRom);
  cfg.bands.forEach(b => p.g.append("path").attr("d", area(b)).attr("fill", "#555").attr("fill-opacity", 0.4));
  const line = d3.line().x(d => p.x(d[0])).y(d => p.y(d[1])).curve(d3.curveCatmullRom);
  cfg.curves.forEach((c, i) => p.g.append("path").attr("d", line(c)).attr("fill", "none")
    .attr("stroke", "#000").attr("stroke-width", 2.4).attr("stroke-dasharray", dashes[i]));
  p.o = Object.assign(p.o, {xt:ticksAge, yt:cfg.yt, xlab:"Age, months", xlabY:507, ylab:cfg.ylab, ylabX:cfg.ylabX,
    title:cfg.title, titleX:cfg.left - 1, titleY:277, titleSize:cfg.titleSize || 17});
  finishPanel(p);
  return p;
}
agePanel({left:45, width:214, yd:[-4.43,14.27], yt:ticksE, visits:snrVisits, bands:[snrBandGa2, snrBandGa4, snrBandGa3],
  curves:[snrGa2, snrGa4, snrGa3], ylab:"Amplitude, dB", ylabX:17, title:"E. SNR"});
agePanel({left:306.5, width:214, yd:[0.159,1.457], yt:ticksF, visits:pitchVisits, bands:[pitchBandGa2, pitchBandGa4, pitchBandGa3],
  curves:[pitchGa2, pitchGa4, pitchGa3], ylab:"Correlation", ylabX:273, title:"F. Pitch Strength"});
agePanel({left:563.3, width:212, yd:[-62.85,-16.14], yt:ticksG, visits:lowPowVisits, bands:[lowPowBandGa2, lowPowBandGa4, lowPowBandGa3],
  curves:[lowPowGa2, lowPowGa4, lowPowGa3], ylab:"Power,dBmV", ylabX:532, title:"G. Lower-band Spec. Power"});
agePanel({left:821.8, width:210, yd:[-63.8,-33.67], yt:ticksH, visits:midPowVisits, bands:[midPowBandGa2, midPowBandGa4, midPowBandGa3],
  curves:[midPowGa2, midPowGa4, midPowGa3], ylab:"Power,dBmV", ylabX:790, title:"H. Middle-band Spec. Power", titleSize:15.4});

// Legend in panel H
{
  const lg = svg.append("g");
  lg.append("text").attr("x", 881.7).attr("y", 437.8).attr("font-weight", "bold").attr("font-size", 12.3)
    .attr("fill", "#000").text("Tone");
  const rows = [446.2, 456.6, 467.0];
  toneLabels.forEach((t, i) => {
    lg.append("line").attr("x1", 881.7).attr("x2", 896.7).attr("y1", rows[i]).attr("y2", rows[i])
      .attr("stroke", "#000").attr("stroke-width", 2.2).attr("stroke-dasharray", dashes[i]);
    lg.append("text").attr("x", 898.5).attr("y", rows[i] + 3.3).attr("font-size", 9.2).attr("fill", "#333").text(t);
  });
}
</script>
</body></html>
